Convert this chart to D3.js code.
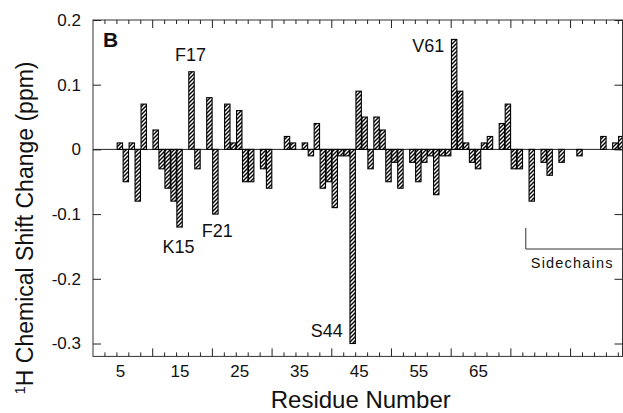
<!DOCTYPE html>
<html>
<head>
<meta charset="utf-8">
<script src="https://cdn.jsdelivr.net/npm/d3@7/dist/d3.min.js"></script>
<style>
  html, body { margin: 0; padding: 0; background: #fff; }
  svg { display: block; font-family: "Liberation Sans", Arial, Helvetica, sans-serif; }
</style>
</head>
<body>
<svg id="chart" width="623" height="413"></svg>
<script>
// ---- data ----
const residues = [5,6,7,8,9,11,12,13,14,15,17,18,20,21,23,24,25,26,27,29,30,33,34,36,37,38,39,40,41,42,43,44,45,46,47,48,49,50,51,52,54,55,56,57,58,59,60,61,62,63,64,65,66,67,69,70,71,72,74,76,77,79,82,86,88,89];
const shifts   = [0.01,-0.05,0.01,-0.08,0.07,0.03,-0.03,-0.06,-0.08,-0.12,0.12,-0.03,0.08,-0.10,0.07,0.01,0.06,-0.05,-0.05,-0.03,-0.06,0.02,0.01,0.01,-0.01,0.04,-0.06,-0.05,-0.09,-0.01,-0.01,-0.30,0.09,0.05,-0.03,0.05,0.03,-0.05,-0.02,-0.06,-0.02,-0.05,-0.02,-0.01,-0.07,-0.01,-0.01,0.17,0.09,0.01,-0.02,-0.03,0.01,0.02,0.04,0.07,-0.03,-0.03,-0.08,-0.02,-0.04,-0.02,-0.01,0.02,0.01,0.02];
const xTickLabels = [5,15,25,35,45,55,65];
const xMajorTicks = [10.5,20.5,30.5,40.5,50.5,60.5,70.5,80.5];
const yTicks = [0.2,0.1,0,-0.1,-0.2,-0.3];
const annotations = [
  {label:"F17", residue:17, value:0.12},
  {label:"K15", residue:15, value:-0.12},
  {label:"F21", residue:21, value:-0.10},
  {label:"S44", residue:44, value:-0.30},
  {label:"V61", residue:61, value:0.17}
];
const sidechainStart = 73;

// ---- layout ----
const svg = d3.select("#chart");
const L = 93, R = 622.5, T = 20, B = 356.4;
const x = d3.scaleLinear().domain([0.5, 89.2]).range([L, R]);
const y = d3.scaleLinear().domain([-0.3, 0.2]).range([343.5, T]);
const barW = 5.4;

// hatch pattern
const defs = svg.append("defs");
const pat = defs.append("pattern").attr("id","hatch").attr("patternUnits","userSpaceOnUse")
  .attr("width",4).attr("height",4);
pat.append("rect").attr("width",4).attr("height",4).attr("fill","#fff");
pat.append("path").attr("d","M-1,1 L1,-1 M0,4 L4,0 M3,5 L5,3")
  .attr("stroke","#000").attr("stroke-width",1.4);

// zero line
svg.append("line").attr("x1",L).attr("x2",R).attr("y1",y(0)).attr("y2",y(0))
  .attr("stroke","#222").attr("stroke-width",1);

// bars
const data = residues.map((r,i)=>({r, v: shifts[i]}));
svg.append("g").selectAll("rect").data(data).join("rect")
  .attr("x", d => x(d.r) - barW/2)
  .attr("width", barW)
  .attr("y", d => Math.min(y(d.v), y(0)))
  .attr("height", d => Math.abs(y(d.v) - y(0)))
  .attr("fill","url(#hatch)")
  .attr("stroke","#000").attr("stroke-width",1.1);

// frame
svg.append("rect").attr("x",L).attr("y",T).attr("width",R-L).attr("height",B-T)
  .attr("fill","none").attr("stroke","#333").attr("stroke-width",1);

// x ticks (bottom & top, inward)
const minorTicks = d3.range(2.5, 89, 2).filter(v => !xMajorTicks.includes(v));
function xTicks(g, yPos, dir) {
  g.selectAll("line.maj").data(xMajorTicks).join("line")
    .attr("x1", d=>x(d)).attr("x2", d=>x(d))
    .attr("y1", yPos).attr("y2", yPos + dir*8)
    .attr("stroke","#222");
  g.selectAll("line.min").data(minorTicks).join("line")
    .attr("x1", d=>x(d)).attr("x2", d=>x(d))
    .attr("y1", yPos).attr("y2", yPos + dir*4)
    .attr("stroke","#222");
}
xTicks(svg.append("g"), B, -1);
xTicks(svg.append("g"), T, 1);

// x tick labels
svg.append("g").attr("transform",`translate(0,${B})`)
  .call(d3.axisBottom(x).tickValues(xTickLabels).tickSize(0).tickPadding(9).tickFormat(d3.format("d")))
  .call(g => g.select(".domain").remove())
  .call(g => g.selectAll("text").attr("font-size",17).attr("fill","#111")
        .attr("font-family","Liberation Sans, Arial, sans-serif"));

// y axis left (ticks inward) with labels
const fmt = d => d === 0 ? "0" : d.toFixed(1);
svg.append("g").attr("transform",`translate(${L},0)`)
  .call(d3.axisLeft(y).tickValues(yTicks).tickSize(-8).tickPadding(12).tickFormat(fmt))
  .call(g => g.select(".domain").remove())
  .call(g => g.selectAll("line").attr("stroke","#222"))
  .call(g => g.selectAll("text").attr("font-size",17).attr("fill","#111")
        .attr("font-family","Liberation Sans, Arial, sans-serif"));
// y axis right ticks
svg.append("g").attr("transform",`translate(${R},0)`)
  .call(d3.axisRight(y).tickValues(yTicks).tickSize(-8).tickFormat(""))
  .call(g => g.select(".domain").remove())
  .call(g => g.selectAll("line").attr("stroke","#222"));

// annotations
const annPos = {
  F17:{dx:-1, y:61}, K15:{dx:-1, y:253}, F21:{dx:2, y:237}, S44:{dx:-26, y:337}, V61:{dx:-26, y:52}
};
svg.append("g").selectAll("text").data(annotations).join("text")
  .attr("x", d => x(d.residue) + annPos[d.label].dx)
  .attr("y", d => annPos[d.label].y)
  .attr("text-anchor","middle").attr("font-size",18).attr("fill","#111")
  .text(d => d.label);

// panel letter
svg.append("text").attr("x",103).attr("y",47).attr("font-size",21).attr("font-weight","bold")
  .attr("fill","#111").text("B");

// sidechains bracket
const sx = x(sidechainStart);
svg.append("path").attr("d",`M${sx},228 L${sx},249 L${R},249`)
  .attr("fill","none").attr("stroke","#333").attr("stroke-width",1);
svg.append("text").attr("x", sx + 5).attr("y",268).attr("font-size",14.5)
  .attr("letter-spacing","1.2px").attr("fill","#111").text("Sidechains");

// axis titles
svg.append("text").attr("x",(L+R)/2 + 3).attr("y",408).attr("text-anchor","middle")
  .attr("font-size",24).attr("fill","#111").text("Residue Number");

const yt = svg.append("text").attr("transform","translate(33,228) rotate(-90)")
  .attr("text-anchor","middle").attr("font-size",23).attr("fill","#111");
yt.append("tspan").attr("font-size",15).attr("baseline-shift","super").text("1");
yt.append("tspan").text("H Chemical Shift Change (ppm)");
</script>
</body>
</html>
